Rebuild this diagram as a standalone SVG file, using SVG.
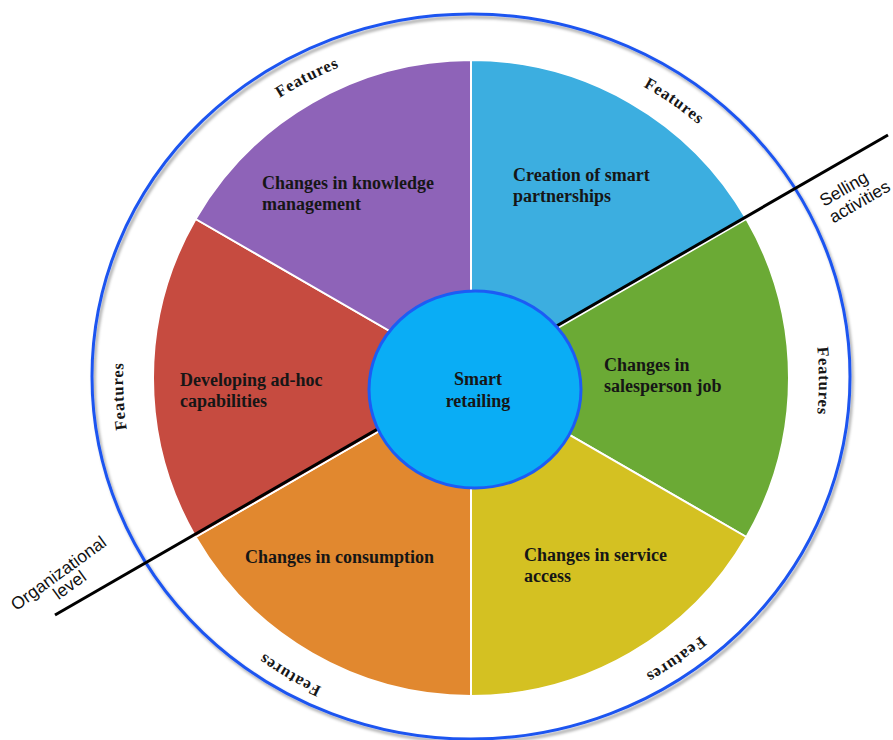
<svg xmlns="http://www.w3.org/2000/svg" xmlns:xlink="http://www.w3.org/1999/xlink" width="893" height="740" viewBox="0 0 893 740">
  <defs>
    <filter id="shadow" x="-10%" y="-10%" width="120%" height="120%">
      <feDropShadow dx="2" dy="3" stdDeviation="1.6" flood-color="#000" flood-opacity="0.35"/>
    </filter>
    <path id="ring" d="M471,42 A348,339 0 0 1 471,720 A348,339 0 0 1 471,42"/>
  </defs>
  <style>
    .wedge { stroke: #ffffff; stroke-width: 2; }
    .lbl { font-family: "Liberation Serif", "Times New Roman", serif; font-weight: bold; font-size: 18px; fill: #161616; }
    .feat { font-family: "Liberation Serif", "Times New Roman", serif; font-weight: bold; font-size: 16.5px; letter-spacing: 0.8px; fill: #161616; }
    .side { font-family: "Liberation Sans", Arial, sans-serif; font-size: 17.5px; fill: #111111; }
  </style>
  <rect width="893" height="740" fill="#ffffff"/>

  <g id="outer-ring">
    <ellipse cx="471" cy="376.5" rx="379" ry="362.5" fill="none" stroke="#1f55f0" stroke-width="3" filter="url(#shadow)"/>
  </g>

  <g id="wedge-partnerships">
    <path class="wedge" d="M471,378 L471,60 A318,318 0 0 1 746.4,219 Z" fill="#3caee0"/>
    <text class="lbl" x="513" y="181">Creation of smart</text>
    <text class="lbl" x="513" y="202">partnerships</text>
  </g>
  <g id="wedge-salesperson">
    <path class="wedge" d="M471,378 L746.4,219 A318,318 0 0 1 746.4,537 Z" fill="#6baa35"/>
    <text class="lbl" x="604" y="371">Changes in</text>
    <text class="lbl" x="604" y="392">salesperson job</text>
  </g>
  <g id="wedge-service">
    <path class="wedge" d="M471,378 L746.4,537 A318,318 0 0 1 471,696 Z" fill="#d4c122"/>
    <text class="lbl" x="524" y="561">Changes in service</text>
    <text class="lbl" x="524" y="582">access</text>
  </g>
  <g id="wedge-consumption">
    <path class="wedge" d="M471,378 L471,696 A318,318 0 0 1 195.6,537 Z" fill="#e1882f"/>
    <text class="lbl" x="245" y="563">Changes in consumption</text>
  </g>
  <g id="wedge-capabilities">
    <path class="wedge" d="M471,378 L195.6,537 A318,318 0 0 1 195.6,219 Z" fill="#c64b40"/>
    <text class="lbl" x="180" y="386">Developing ad-hoc</text>
    <text class="lbl" x="180" y="407">capabilities</text>
  </g>
  <g id="wedge-knowledge">
    <path class="wedge" d="M471,378 L195.6,219 A318,318 0 0 1 471,60 Z" fill="#8e63b8"/>
    <text class="lbl" x="262" y="189">Changes in knowledge</text>
    <text class="lbl" x="262" y="210">management</text>
  </g>

  <g id="connectors">
    <line x1="55" y1="615" x2="888" y2="135" stroke="#000000" stroke-width="3"/>
  </g>

  <g id="center-smart-retailing">
    <ellipse cx="475" cy="389.5" rx="106" ry="98.5" fill="#0aadf5" stroke="#1c5cf5" stroke-width="3"/>
    <text class="lbl" x="478" y="385" text-anchor="middle">Smart</text>
    <text class="lbl" x="478" y="407" text-anchor="middle">retailing</text>
  </g>

  <g id="features-labels">
    <text class="feat" text-anchor="middle"><textPath href="#ring" xlink:href="#ring" startOffset="92.2%">Features</textPath></text>
    <text class="feat" text-anchor="middle"><textPath href="#ring" xlink:href="#ring" startOffset="9.9%">Features</textPath></text>
    <text class="feat" text-anchor="middle"><textPath href="#ring" xlink:href="#ring" startOffset="25%">Features</textPath></text>
    <text class="feat" text-anchor="middle"><textPath href="#ring" xlink:href="#ring" startOffset="40%">Features</textPath></text>
    <text class="feat" text-anchor="middle"><textPath href="#ring" xlink:href="#ring" startOffset="58.7%">Features</textPath></text>
    <text class="feat" text-anchor="middle"><textPath href="#ring" xlink:href="#ring" startOffset="74.3%">Features</textPath></text>
  </g>

  <g id="label-selling-activities" transform="translate(824,207) rotate(-30)">
    <text class="side" x="0" y="0">Selling</text>
    <text class="side" x="0" y="19">activities</text>
  </g>

  <g id="label-organizational-level" transform="translate(62,578) rotate(-36)">
    <text class="side" x="0" y="0" text-anchor="middle">Organizational</text>
    <text class="side" x="2" y="16" text-anchor="middle">level</text>
  </g>
</svg>
